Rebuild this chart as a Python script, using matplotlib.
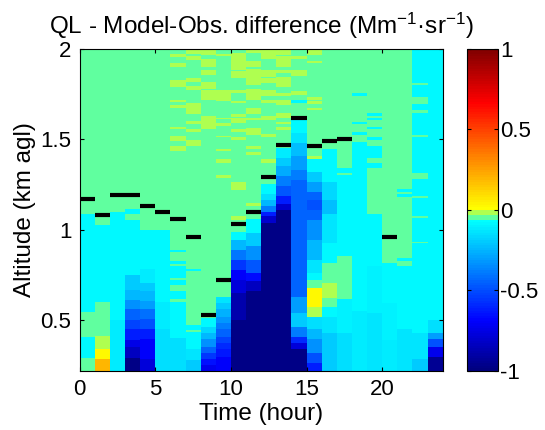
import numpy as np
import matplotlib
matplotlib.use("Agg")
import matplotlib.pyplot as plt
from matplotlib.colors import ListedColormap

plt.rcParams["font.family"] = ["Liberation Sans", "DejaVu Sans"]
plt.rcParams["mathtext.fontset"] = "custom"
plt.rcParams["mathtext.rm"] = "Liberation Sans"
plt.rcParams["mathtext.it"] = "Liberation Sans:italic"
plt.rcParams["mathtext.bf"] = "Liberation Sans:bold"
plt.rcParams["axes.unicode_minus"] = False

# Model - observation difference, one column per hour of the day
# each column: (bottom km, top km, value); cells not listed are the near-zero background
G, Y, C = -0.045, -0.015, -0.08   # green background, yellow-green streaks, cyan

col00 = [(0.22, 0.29, G), (0.29, 0.41, C), (0.41, 0.545, G), (0.545, 1.083, C)]
col01 = [(0.22, 0.287, 0.2), (0.287, 0.342, 0.02), (0.342, 0.417, Y), (0.417, 0.599, G), (0.599, 1.027, C)]
col02 = [(0.22, 0.50, -0.12), (0.50, 1.101, C)]
col03 = [(0.22, 0.29, -0.97), (0.29, 0.35, -0.84), (0.35, 0.39, -0.75), (0.39, 0.45, -0.62),
         (0.45, 0.50, -0.53), (0.50, 0.56, -0.44), (0.56, 0.61, -0.34), (0.61, 0.67, -0.25),
         (0.67, 0.75, -0.19), (0.75, 1.055, C), (1.086, 1.114, C)]
col04 = [(0.22, 0.283, -0.78), (0.283, 0.393, -0.69), (0.393, 0.448, -0.62), (0.448, 0.504, -0.5),
         (0.504, 0.559, -0.41), (0.559, 0.605, -0.31), (0.605, 0.66, -0.25), (0.66, 0.706, -0.19),
         (0.706, 0.783, -0.125), (0.783, 1.0, C)]
col05 = [(0.22, 0.45, -0.15), (0.45, 0.60, -0.12), (0.60, 1.0, C)]
col06 = [(0.22, 0.40, -0.15), (0.40, 0.60, C), (0.614, 0.66, C), (0.697, 0.724, C), (0.733, 0.798, C),
         (0.811, 0.825, C), (0.875, 0.89, C),
         (1.436, 1.464, Y), (1.492, 1.52, Y), (1.555, 1.566, Y), (1.677, 1.69, Y), (1.706, 1.717, Y),
         (1.79, 1.825, Y), (1.90, 1.92, Y), (1.955, 1.968, Y)]
col07 = [(0.22, 0.28, -0.19), (0.28, 0.34, -0.13), (0.34, 0.435, C), (0.447, 0.476, C), (0.772, 0.785, C),
         (1.464, 1.493, Y), (1.54, 1.555, Y), (1.585, 1.598, Y), (1.64, 1.702, Y), (1.769, 1.794, Y),
         (1.813, 1.842, Y), (1.934, 1.96, Y), (1.971, 1.997, Y)]
col08 = [(0.22, 0.255, -0.72), (0.255, 0.283, -0.65), (0.283, 0.32, -0.55), (0.32, 0.357, -0.44),
         (0.357, 0.393, -0.34), (0.393, 0.43, -0.25), (0.43, 0.467, -0.17), (0.467, 0.516, C),
         (1.555, 1.629, Y), (1.717, 1.769, Y), (1.781, 1.813, Y), (1.855, 1.886, Y), (1.901, 1.947, Y),
         (1.965, 1.997, Y)]
col09 = [(0.22, 0.30, -0.7), (0.30, 0.338, -0.64), (0.338, 0.375, -0.58), (0.375, 0.412, -0.52),
         (0.412, 0.448, -0.45), (0.448, 0.485, -0.38), (0.485, 0.522, -0.32), (0.522, 0.559, -0.26),
         (0.559, 0.596, -0.2), (0.596, 0.632, -0.14),
         (1.285, 1.298, Y), (1.371, 1.39, Y), (1.434, 1.445, Y), (1.511, 1.518, Y), (1.574, 1.588, Y),
         (1.61, 1.621, Y), (1.708, 1.769, Y), (1.96, 1.97, Y)]
col10 = [(0.22, 0.50, -0.97), (0.50, 0.65, -0.88), (0.65, 0.724, -0.78), (0.724, 0.78, -0.69),
         (0.78, 0.835, -0.55), (0.835, 0.89, -0.4), (0.89, 0.945, -0.25), (0.945, 0.99, C),
         (1.055, 1.074, Y), (1.221, 1.267, Y), (1.493, 1.515, Y), (1.542, 1.555, Y), (1.588, 1.616, Y),
         (1.625, 1.64, Y), (1.699, 1.708, Y), (1.757, 1.772, Y), (1.842, 1.873, Y), (1.886, 1.974, Y)]
col11 = [(0.22, 0.66, -0.97), (0.66, 0.715, -0.84), (0.715, 0.761, -0.66), (0.761, 0.834, -0.47),
         (0.834, 0.908, -0.34), (0.908, 0.982, -0.19), (0.982, 1.059, C),
         (1.13, 1.15, Y), (1.414, 1.432, Y), (1.447, 1.463, Y), (1.524, 1.561, Y), (1.603, 1.616, Y),
         (1.64, 1.671, Y), (1.717, 1.78, Y), (1.80, 1.892, Y), (1.90, 1.928, Y), (1.974, 1.993, Y)]
col12 = [(0.22, 1.037, -0.97), (1.037, 1.074, -0.8), (1.074, 1.101, -0.62), (1.101, 1.129, -0.38),
         (1.129, 1.165, -0.25), (1.165, 1.193, -0.15), (1.193, 1.257, C),
         (1.371, 1.39, Y), (1.511, 1.53, Y), (1.607, 1.629, Y), (1.699, 1.717, Y), (1.739, 1.769, Y),
         (1.809, 1.842, Y), (1.846, 1.879, Y), (1.947, 1.993, Y)]
col13 = [(0.22, 1.11, -0.97), (1.11, 1.147, -0.8), (1.147, 1.184, -0.62), (1.184, 1.239, -0.47),
         (1.239, 1.294, -0.38), (1.294, 1.349, -0.28), (1.349, 1.395, -0.19), (1.395, 1.45, -0.12),
         (1.551, 1.566, Y), (1.585, 1.597, Y), (1.616, 1.643, Y), (1.69, 1.717, Y), (1.739, 1.754, Y),
         (1.79, 1.846, Y), (1.864, 1.886, Y), (1.901, 1.96, Y), (1.965, 1.993, Y)]
col14 = [(0.22, 0.338, -0.97), (0.338, 0.375, -0.78), (0.375, 0.412, -0.58), (0.412, 0.467, -0.38),
         (0.467, 0.54, -0.19), (0.54, 0.632, -0.31), (0.632, 1.276, -0.44), (1.276, 1.331, -0.38),
         (1.331, 1.404, -0.31), (1.404, 1.478, -0.22), (1.478, 1.533, -0.13), (1.533, 1.607, C),
         (1.702, 1.717, C), (1.745, 1.763, Y), (1.85, 1.883, Y), (1.947, 1.96, Y)]
col15 = [(0.22, 0.265, -0.62), (0.265, 0.32, -0.5), (0.32, 0.393, -0.34), (0.393, 0.448, -0.25),
         (0.448, 0.522, -0.15), (0.522, 0.577, Y), (0.577, 0.678, 0.02), (0.724, 0.761, C),
         (0.761, 0.834, -0.13), (0.834, 0.945, -0.25), (0.945, 1.055, -0.34), (1.055, 1.11, -0.44),
         (1.11, 1.165, -0.5), (1.165, 1.211, -0.44), (1.211, 1.267, -0.31), (1.267, 1.322, -0.19),
         (1.322, 1.39, C), (1.39, 1.404, Y),
         (1.658, 1.671, Y), (1.695, 1.708, Y), (1.717, 1.735, Y), (1.919, 1.928, Y), (1.965, 1.993, Y)]
col16 = [(0.22, 0.43, -0.19), (0.43, 0.522, -0.13), (0.522, 0.577, C), (0.623, 0.706, Y), (0.816, 0.926, C),
         (0.926, 1.083, -0.13), (1.083, 1.165, -0.22), (1.165, 1.267, -0.16), (1.267, 1.445, C)]
col17 = [(0.22, 0.43, -0.15), (0.43, 0.618, -0.1), (0.857, 1.298, C), (1.313, 1.34, C)]
col18 = [(0.22, 0.55, -0.12), (0.55, 1.487, C), (1.524, 1.542, C), (1.585, 1.597, C), (1.74, 1.754, C)]
col19 = [(0.22, 0.54, -0.14), (0.54, 0.798, -0.1), (0.798, 1.083, C), (1.34, 1.368, C), (1.395, 1.463, C),
         (1.493, 1.511, C), (1.555, 1.566, C), (1.603, 1.616, C), (1.629, 1.643, C)]
col20 = [(0.22, 0.39, -0.12), (0.39, 0.595, -0.1), (0.595, 0.816, C)]
col21 = [(0.22, 0.45, -0.14), (0.45, 0.801, C), (0.825, 0.844, C), (1.18, 1.193, C), (1.21, 1.224, C)]
col22 = [(0.22, 0.283, -0.2), (0.283, 0.43, -0.13), (0.43, 0.923, C), (0.935, 1.063, C), (1.073, 1.175, C),
         (1.187, 1.28, C), (1.313, 1.511, C), (1.524, 1.647, C), (1.662, 1.695, C), (1.735, 1.80, C),
         (1.81, 2.0, C)]
col23 = [(0.22, 0.30, -0.95), (0.30, 0.357, -0.72), (0.357, 0.393, -0.5), (0.393, 0.43, -0.3),
         (0.43, 0.5, -0.15), (0.5, 2.0, C)]

columns = [col00, col01, col02, col03, col04, col05, col06, col07, col08, col09, col10, col11,
           col12, col13, col14, col15, col16, col17, col18, col19, col20, col21, col22, col23]

# boundary layer top (km agl) for each hour, nan where none was found
blh = [1.17, 1.08, 1.19, 1.19, 1.13, 1.10, 1.06, 0.96, 0.53, 0.72, 1.03, 1.10,
       1.29, 1.47, 1.62, 1.46, 1.49, 1.50, np.nan, np.nan, 0.96, np.nan, np.nan, np.nan]

time_edges = np.arange(25)
alt_edges = np.linspace(0.22, 2.0, 357)
alt_mid = 0.5 * (alt_edges[:-1] + alt_edges[1:])

diff = np.full((len(alt_mid), len(columns)), G)
for j, segs in enumerate(columns):
    for lo, hi, v in segs:
        diff[(alt_mid >= lo) & (alt_mid < hi), j] = v


# MATLAB-style jet (pure cyan / yellow at the quarter points)
def mjet(x):
    x = np.asarray(x)
    r = np.clip(1.5 - np.abs(4 * x - 3), 0, 1)
    g = np.clip(1.5 - np.abs(4 * x - 2), 0, 1)
    b = np.clip(1.5 - np.abs(4 * x - 1), 0, 1)
    return np.column_stack([r, g, b])


# lower half navy->cyan, green bins just below zero, upper half yellow->dark red
colors = list(mjet(np.linspace(0, 0.375, 60)))
colors += [(0.375, 1, 0.625)] * 2 + [(0.6875, 1, 0.3125)] * 2
colors += list(mjet(np.linspace(0.625, 1, 64)))
cmap = ListedColormap(colors)

fig = plt.figure(figsize=(5.45, 4.3), dpi=100)
ax = fig.add_axes([0.1462, 0.1372, 0.666, 0.7495])
cax = fig.add_axes([0.8563, 0.1372, 0.0569, 0.7495])

mesh = ax.pcolormesh(time_edges, alt_edges, diff, cmap=cmap, vmin=-1, vmax=1, shading="flat")
ax.hlines(blh, time_edges[:-1], time_edges[1:], colors="black", linewidth=3)

ax.set_xlim(0, 24)
ax.set_ylim(0.22, 2.0)
ax.set_xticks([0, 5, 10, 15, 20])
ax.set_yticks([0.5, 1, 1.5, 2])
ax.set_yticklabels(["0.5", "1", "1.5", "2"])
ax.tick_params(direction="in", top=True, right=True, length=3, labelsize=16, pad=6)
for s in ax.spines.values():
    s.set_linewidth(0.8)

ax.set_xlabel("Time (hour)", fontsize=17.5, labelpad=2)
ax.set_ylabel("Altitude (km agl)", fontsize=17.5, labelpad=3)
ax.set_title("QL - Model-Obs. difference (Mm$^{-1}$\u00b7sr$^{-1}$)", fontsize=17.5, pad=11)

cb = fig.colorbar(mesh, cax=cax, ticks=[-1, -0.5, 0, 0.5, 1])
cb.ax.set_yticklabels(["-1", "-0.5", "0", "0.5", "1"])
cb.ax.tick_params(direction="in", left=True, right=True, length=3, labelsize=16, pad=2)
cb.outline.set_linewidth(0.8)

fig.savefig("out.png", dpi=100)
